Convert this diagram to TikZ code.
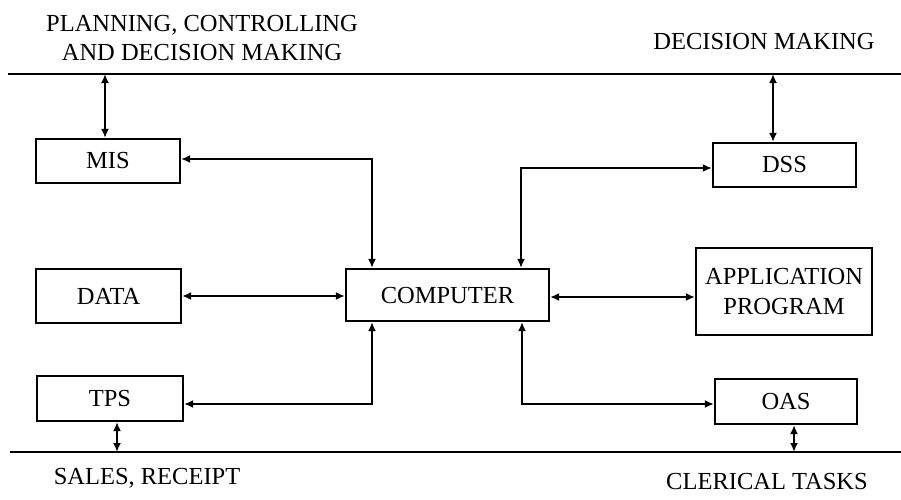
\documentclass[tikz,border=0pt]{standalone}
\usepackage{fontspec}
\setmainfont{Liberation Serif}
\usetikzlibrary{arrows.meta}
\newcommand\diafont{\fontsize{24.5}{29}\selectfont}
\begin{document}
\begin{tikzpicture}[x=1pt,y=-1pt,line width=2.2pt,
  box/.style={draw,inner sep=0pt,align=center,font=\diafont},
  lbl/.style={inner sep=0pt,align=center,font=\diafont},
  tip/.tip={Latex[length=9pt,width=8pt]},
  dbl/.style={tip-tip},
  rule/.style={line width=1.8pt}]
\useasboundingbox (0,0) rectangle (901,499);
% rules
\coordinate (TL) at (8,74);
\coordinate (TR) at (901,74);
\coordinate (BL) at (10,452);
\coordinate (BR) at (901,452);
\draw[rule] (TL) -- (TR);
\draw[rule] (BL) -- (BR);
% labels
\node[lbl] (ltop) at (202,38) {PLANNING, CONTROLLING\\AND DECISION MAKING};
\node[lbl] (rtop) at (764,42) {DECISION MAKING};
\node[lbl] (lbot) at (147,478) {SALES, RECEIPT};
\node[lbl] (rbot) at (767,481) {CLERICAL TASKS};
% boxes
\node[box,minimum width=144pt,minimum height=44pt] (MIS) at (108,161) {MIS};
\node[box,minimum width=143pt,minimum height=44pt] (DSS) at (784.5,165) {DSS};
\node[box,minimum width=145pt,minimum height=54pt] (DATA) at (108.5,296) {DATA};
\node[box,minimum width=203pt,minimum height=52pt] (COMP) at (447.5,295) {COMPUTER};
\node[box,minimum width=176pt,minimum height=87pt] (APP) at (784,291.5) {APPLICATION\\PROGRAM};
\node[box,minimum width=146pt,minimum height=45pt] (TPS) at (110,398.5) {TPS};
\node[box,minimum width=142pt,minimum height=45pt] (OAS) at (786,401.5) {OAS};
% connection points on rules
\coordinate (pMIS) at (105,74);
\coordinate (pDSS) at (773,74);
\coordinate (pTPS) at (117,452);
\coordinate (pOAS) at (794,452);
% connectors
\draw[dbl] (pMIS) -- (pMIS |- MIS.north);
\draw[dbl] (pDSS) -- (pDSS |- DSS.north);
\draw[dbl] (pTPS |- TPS.south) -- (pTPS);
\draw[dbl] (pOAS |- OAS.south) -- (pOAS);
\draw[dbl] ([yshift=2pt]MIS.east) -| ([xshift=-75.5pt]COMP.north);
\draw[dbl] ([yshift=-3pt]DSS.west) -| ([xshift=73.5pt]COMP.north);
\draw[dbl] (DATA.east) -- (DATA.east -| COMP.west);
\draw[dbl] ([yshift=-2pt]COMP.east) -- ([yshift=-2pt]COMP.east -| APP.west);
\draw[dbl] ([yshift=-5.5pt]TPS.east) -| ([xshift=-75.5pt]COMP.south);
\draw[dbl] ([xshift=74.5pt]COMP.south) |- ([yshift=-2.5pt]OAS.west);
\end{tikzpicture}
\end{document}
